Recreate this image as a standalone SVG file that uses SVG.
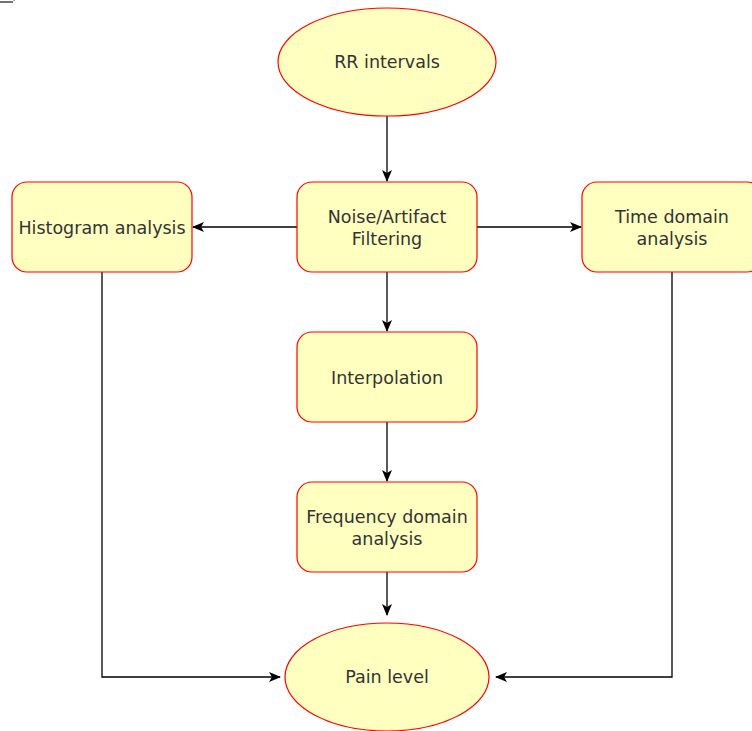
<svg xmlns="http://www.w3.org/2000/svg" width="752" height="731" viewBox="0 0 752 731">
<style>
.n{fill:#ffffc0;stroke:#ff0000;stroke-width:1.2}
.t{font-family:"DejaVu Sans",Verdana,sans-serif;font-size:17.5px;fill:#333333;text-anchor:middle}
.c{fill:none;stroke:#000000;stroke-width:1.3}
</style>
<defs>
<marker id="a" viewBox="0 0 12 10" refX="11" refY="5" markerWidth="12" markerHeight="10" markerUnits="userSpaceOnUse" orient="auto">
<path d="M0,0 L12,5 L0,10 L3,5 Z" fill="#000000"/>
</marker>
</defs>
<rect width="752" height="731" fill="#ffffff"/>
<path d="M0,2 H13" stroke="#444444" stroke-width="1.5"/>
<rect x="13" y="0" width="2" height="1" fill="#aaaaaa"/>
<g id="connectors">
<path class="c" d="M387,116 V181" marker-end="url(#a)"/>
<path class="c" d="M297,227 H193" marker-end="url(#a)"/>
<path class="c" d="M477,227 H581" marker-end="url(#a)"/>
<path class="c" d="M387,272 V331" marker-end="url(#a)"/>
<path class="c" d="M387,422 V481" marker-end="url(#a)"/>
<path class="c" d="M387,572 V615" marker-end="url(#a)"/>
<path class="c" d="M102,272 V677 H280" marker-end="url(#a)"/>
<path class="c" d="M672,272 V677 H496" marker-end="url(#a)"/>
</g>
<g id="rr">
<ellipse class="n" cx="387" cy="62" rx="109" ry="54"/>
<text class="t" x="387" y="68">RR intervals</text>
</g>
<g id="noise">
<rect class="n" x="297" y="182" width="180" height="90" rx="15"/>
<text class="t" x="387" y="223">Noise/Artifact</text>
<text class="t" x="387" y="245">Filtering</text>
</g>
<g id="histogram">
<rect class="n" x="12" y="182" width="180" height="90" rx="15"/>
<text class="t" x="102" y="234">Histogram analysis</text>
</g>
<g id="time">
<rect class="n" x="582" y="182" width="180" height="90" rx="15"/>
<text class="t" x="672" y="223">Time domain</text>
<text class="t" x="672" y="245">analysis</text>
</g>
<g id="interp">
<rect class="n" x="297" y="332" width="180" height="90" rx="15"/>
<text class="t" x="387" y="384">Interpolation</text>
</g>
<g id="freq">
<rect class="n" x="297" y="482" width="180" height="90" rx="15"/>
<text class="t" x="387" y="523">Frequency domain</text>
<text class="t" x="387" y="545">analysis</text>
</g>
<g id="pain">
<ellipse class="n" cx="387" cy="677" rx="102" ry="54"/>
<text class="t" x="387" y="683">Pain level</text>
</g>
</svg>
